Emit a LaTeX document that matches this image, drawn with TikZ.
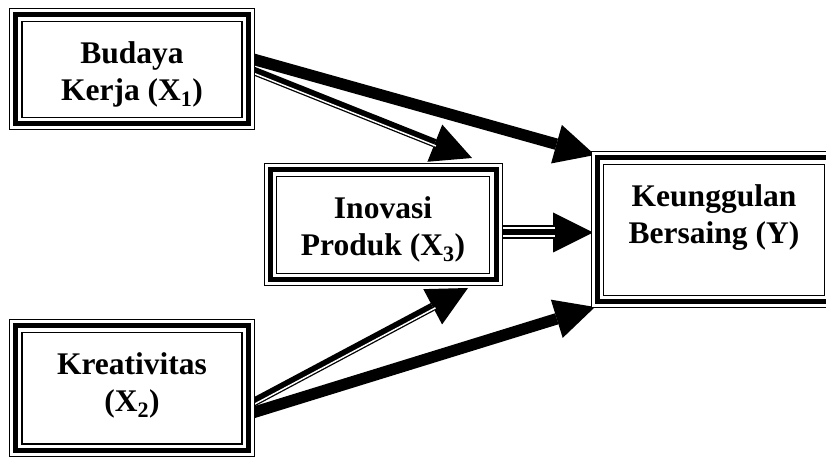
\documentclass[tikz,border=0pt]{standalone}
\usepackage{fontspec}
\setmainfont{Liberation Serif}
\usetikzlibrary{arrows.meta,calc}
\newcommand\myframe[1]{%
  \fill[white] (#1.south west) rectangle (#1.north east);
  \draw[line width=1pt] (#1.south west) rectangle (#1.north east);
  \draw[line width=5pt] ([shift={(6pt,6pt)}]#1.south west) rectangle ([shift={(-6pt,-6pt)}]#1.north east);
  \draw[line width=1.6pt] ([shift={(12.5pt,12.5pt)}]#1.south west) rectangle ([shift={(-12.5pt,-12.5pt)}]#1.north east);
}
\begin{document}
\begin{tikzpicture}[x=1pt,y=1pt,
  box/.style={inner sep=0pt, outer sep=0pt},
  lbl/.style={font=\fontsize{31.5}{37}\selectfont\bfseries, align=center, inner sep=0pt},
  head/.style={-{Triangle[length=40pt,width=40pt,line width=0pt]}},
  heavy/.style={head, line width=11.5pt},
  dbl/.style={head, line width=8.5pt},
  tri/.style={head, line width=14pt},
  stripe/.style={white, line width=1.5pt}
]
\useasboundingbox (0,0) rectangle (826,457);
\clip (0,0) rectangle (826,457);
\fill[white] (0,0) rectangle (826,457);
% box geometry
\node[box, minimum width=245pt, minimum height=121pt] (b1) at (132,387.5) {};
\node[box, minimum width=245pt, minimum height=136.5pt] (b2) at (132,68.75) {};
\node[box, minimum width=238pt, minimum height=122pt] (b3) at (383,232) {};
\node[box, minimum width=246pt, minimum height=156pt] (b4) at (714,227) {};
% connector ends
\coordinate (s1) at ([shift={(-2,10.5)}]b1.east);
\coordinate (s2) at ([shift={(-2,-1)}]b1.east);
\coordinate (t1) at ([shift={(4,-3)}]b4.north west);
\coordinate (t2) at ([shift={(-30,6)}]b3.north east);
\coordinate (s3) at ([shift={(0,-7.5)}]b3.east);
\coordinate (t3) at ([shift={(2,-2.5)}]b4.west);
\coordinate (s4) at ([shift={(-2,-14.5)}]b2.east);
\coordinate (t4) at ([shift={(-34,-2)}]b3.south east);
\coordinate (s5) at ([shift={(-2,-24.5)}]b2.east);
\coordinate (t5) at ([shift={(4,1)}]b4.south west);
\coordinate (e2) at ($(t2)!38pt!(s2)$);
\coordinate (e3) at ($(t3)!38pt!(s3)$);
\coordinate (e4) at ($(t4)!38pt!(s4)$);
% connectors
\draw[heavy] (s1) -- (t1);
\draw[dbl] (s2) -- (t2);
\draw[stripe] ($(s2)!2.2pt!-90:(t2)$) -- ($(e2)!2.2pt!90:(s2)$);
\draw[tri] (s3) -- (t3);
\draw[white, line width=2pt] ([yshift=4pt]s3) -- ([yshift=4pt]e3);
\draw[white, line width=2pt] ([yshift=-4pt]s3) -- ([yshift=-4pt]e3);
\draw[dbl] (s4) -- (t4);
\draw[stripe] ($(s4)!2.2pt!-90:(t4)$) -- ($(e4)!2.2pt!90:(s4)$);
\draw[heavy] (s5) -- (t5);
% frames
\myframe{b1}
\myframe{b2}
\myframe{b3}
\myframe{b4}
% labels
\node[lbl] (l1) at (132,382.6) {Budaya\\Kerja (X\textsubscript{1})};
\node[lbl] (l2) at (132,71.6) {Kreativitas\\(X\textsubscript{2})};
\node[lbl] (l3) at (383,227.6) {Inovasi\\Produk (X\textsubscript{3})};
\node[lbl] (l4) at (714,239.6) {Keunggulan\\Bersaing (Y)};
\end{tikzpicture}
\end{document}
